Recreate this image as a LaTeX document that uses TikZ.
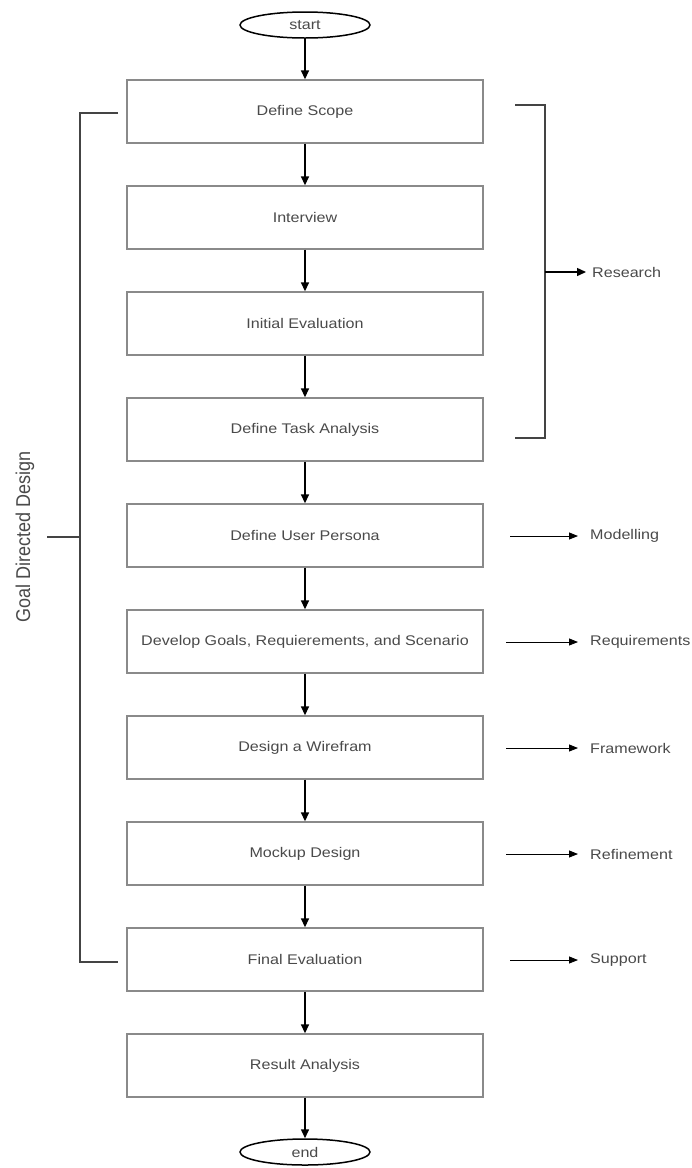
\documentclass[tikz,border=0pt]{standalone}
\usepackage{fontspec}
\setmainfont[FakeStretch=1.15]{Liberation Sans}
\newfontfamily\narrowfont[FakeStretch=0.9]{Liberation Sans}
\usetikzlibrary{arrows.meta,shapes.geometric}
\definecolor{txtc}{HTML}{4A4A4A}
\definecolor{boxc}{HTML}{8A8A8A}
\definecolor{brkc}{HTML}{444444}
\begin{document}
\begin{tikzpicture}[x=1pt,y=-1pt,
  stepbox/.style={draw=boxc,line width=1.4pt,minimum width=356pt,minimum height=63pt,inner sep=0pt,
    text=txtc,font=\fontsize{14}{16}\selectfont},
  term/.style={ellipse,draw=black,line width=1.5pt,minimum width=130pt,minimum height=26pt,inner sep=0pt,
    text=txtc,font=\fontsize{14}{16}\selectfont},
  lbl/.style={anchor=west,inner sep=0pt,text=txtc,font=\fontsize{14}{16}\selectfont},
  arr/.style={draw=black,line width=1.5pt,-{Triangle[length=9pt,width=8pt]}},
  sarr/.style={draw=black,line width=0.9pt,-{Triangle[length=9pt,width=7pt]}},
  brk/.style={draw=brkc,line width=2.6pt}]
\useasboundingbox (0,0) rectangle (692,1168);
\fill[white] (0,0) rectangle (692,1168);

\node[term] (start) at (305,25) {start};
\node[stepbox] (b1) at (305,111.5) {Define Scope};
\node[stepbox] (b2) at (305,217.5) {Interview};
\node[stepbox] (b3) at (305,323.5) {Initial Evaluation};
\node[stepbox] (b4) at (305,429.5) {Define Task Analysis};
\node[stepbox] (b5) at (305,535.5) {Define User Persona};
\node[stepbox] (b6) at (305,641.5) {Develop Goals, Requierements, and Scenario};
\node[stepbox] (b7) at (305,747.5) {Design a Wirefram};
\node[stepbox] (b8) at (305,853.5) {Mockup Design};
\node[stepbox] (b9) at (305,959.5) {Final Evaluation};
\node[stepbox] (b10) at (305,1065.5) {Result Analysis};
\node[term] (end) at (305,1152) {end};

\draw[arr] (start) -- (b1);
\draw[arr] (b1) -- (b2);
\draw[arr] (b2) -- (b3);
\draw[arr] (b3) -- (b4);
\draw[arr] (b4) -- (b5);
\draw[arr] (b5) -- (b6);
\draw[arr] (b6) -- (b7);
\draw[arr] (b7) -- (b8);
\draw[arr] (b8) -- (b9);
\draw[arr] (b9) -- (b10);
\draw[arr] (b10) -- (end);

% Research bracket
\coordinate (rt) at (515,105);
\coordinate (rb) at (515,438);
\coordinate (rm) at (545,272);
\draw[brk] (rt) -- (545,105) -- (545,438) -- (rb);
\node[lbl] (research) at (592,272) {Research};
\draw[arr,line width=1.4pt] (rm) -- ([xshift=-6pt]research.west);

% Goal Directed Design bracket
\coordinate (gt) at (118,113);
\coordinate (gb) at (118,962);
\coordinate (gm) at (80,537);
\draw[brk] (gt) -- (80,113) -- (80,962) -- (gb);
\node[rotate=90,inner sep=0pt,text=txtc,font=\narrowfont\fontsize{20}{22}\selectfont] (gdd) at (25,537) {Goal Directed Design};
\draw[brk] (47,537) -- (gm);

% side arrows
\node[lbl] (mod) at (590,536) {Modelling};
\node[lbl] (req) at (590,642) {Requirements};
\node[lbl] (fw) at (590,748) {Framework};
\node[lbl] (ref) at (590,854) {Refinement};
\node[lbl] (sup) at (590,960) {Support};
\coordinate (s5) at (510,536);
\coordinate (s6) at (506,642);
\coordinate (s7) at (506,748);
\coordinate (s8) at (506,854);
\coordinate (s9) at (510,960);
\draw[sarr] (s5) -- ([xshift=-12pt]mod.west);
\draw[sarr] (s6) -- ([xshift=-12pt]req.west);
\draw[sarr] (s7) -- ([xshift=-12pt]fw.west);
\draw[sarr] (s8) -- ([xshift=-12pt]ref.west);
\draw[sarr] (s9) -- ([xshift=-12pt]sup.west);
\end{tikzpicture}
\end{document}
